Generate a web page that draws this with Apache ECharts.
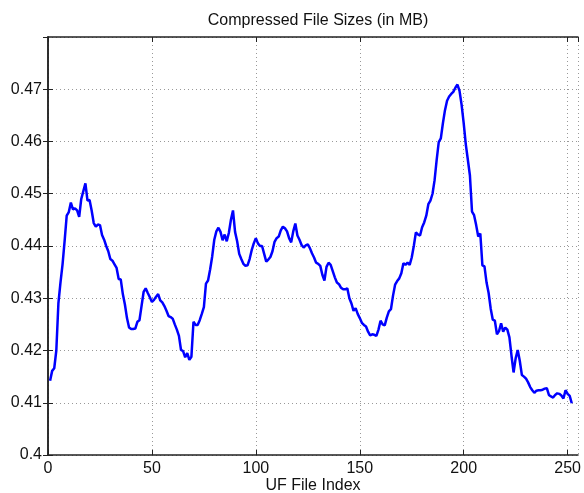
<!DOCTYPE html>
<html>
<head>
<meta charset="utf-8">
<script src="https://cdn.jsdelivr.net/npm/echarts@6/dist/echarts.min.js"></script>
<style>
  body { margin: 0; background: #fff; }
  #main { width: 584px; height: 493px; }
</style>
</head>
<body>
<div id="main"></div>
<script>
// compressed size of each UF file, index 1..252
var sizes = [
  0.4142, 0.4161, 0.4166, 0.4200, 0.4290, 0.4330, 0.4365, 0.4410, 0.4458, 0.4465,
  0.4483, 0.4470, 0.4472, 0.4468, 0.4456, 0.4490, 0.4505, 0.4520, 0.4487, 0.4488,
  0.4468, 0.4444, 0.4437, 0.4441, 0.4440, 0.4421, 0.4412, 0.4400, 0.4390, 0.4375,
  0.4372, 0.4365, 0.4358, 0.4337, 0.4336, 0.4308, 0.4288, 0.4262, 0.4244, 0.4241,
  0.4241, 0.4242, 0.4255, 0.4258, 0.4285, 0.4312, 0.4319, 0.4310, 0.4302, 0.4293,
  0.4297, 0.4303, 0.4308, 0.4296, 0.4292, 0.4285, 0.4276, 0.4266, 0.4264, 0.4261,
  0.4250, 0.4240, 0.4228, 0.4201, 0.4199, 0.4187, 0.4195, 0.4182, 0.4188, 0.4255,
  0.4249, 0.4249, 0.4258, 0.4270, 0.4283, 0.4328, 0.4334, 0.4355, 0.4380, 0.4412,
  0.4428, 0.4435, 0.4427, 0.4411, 0.4422, 0.4409, 0.4425, 0.4450, 0.4468, 0.4427,
  0.4409, 0.4385, 0.4375, 0.4366, 0.4362, 0.4363, 0.4375, 0.4392, 0.4405, 0.4415,
  0.4405, 0.4400, 0.4400, 0.4385, 0.4370, 0.4374, 0.4379, 0.4390, 0.4408, 0.4415,
  0.4418, 0.4430, 0.4437, 0.4434, 0.4428, 0.4415, 0.4407, 0.4428, 0.4443, 0.4420,
  0.4412, 0.4402, 0.4397, 0.4401, 0.4403, 0.4396, 0.4386, 0.4378, 0.4368, 0.4366,
  0.4362, 0.4345, 0.4334, 0.4360, 0.4368, 0.4364, 0.4352, 0.4340, 0.4330, 0.4327,
  0.4320, 0.4317, 0.4317, 0.4319, 0.4300, 0.4290, 0.4276, 0.4281, 0.4270, 0.4262,
  0.4253, 0.4249, 0.4246, 0.4236, 0.4229, 0.4231, 0.4230, 0.4228, 0.4240, 0.4257,
  0.4250, 0.4248, 0.4263, 0.4275, 0.4279, 0.4305, 0.4326, 0.4333, 0.4338, 0.4348,
  0.4367, 0.4364, 0.4368, 0.4364, 0.4378, 0.4400, 0.4426, 0.4422, 0.4420, 0.4436,
  0.4445, 0.4458, 0.4480, 0.4487, 0.4500, 0.4526, 0.4565, 0.4599, 0.4606, 0.4635,
  0.4660, 0.4678, 0.4686, 0.4691, 0.4695, 0.4703, 0.4709, 0.4697, 0.4670, 0.4635,
  0.4595, 0.4565, 0.4535, 0.4466, 0.4459, 0.4440, 0.4418, 0.4424, 0.4363, 0.4361,
  0.4330, 0.4310, 0.4280, 0.4259, 0.4257, 0.4231, 0.4237, 0.4252, 0.4236, 0.4244,
  0.4240, 0.4225, 0.4190, 0.4158, 0.4185, 0.4201, 0.4180, 0.4153, 0.4150, 0.4146,
  0.4139, 0.4130, 0.4124, 0.4119, 0.4123, 0.4124, 0.4124, 0.4125, 0.4127, 0.4128,
  0.4115, 0.4112, 0.4110, 0.4115, 0.4118, 0.4117, 0.4114, 0.4108, 0.4124, 0.4117,
  0.4113, 0.4099
]

var xMin = 0, xMax = 255, xStep = 50
var yMin = 0.4, yMax = 0.48, yStep = 0.01

var fontName = 'Liberation Sans, Arial, Helvetica, sans-serif'

function get_points (vals) {
  var pts = []
  for (var i = 0; i < vals.length; i++) {
    pts.push([i + 1, vals[i]])
  }
  return pts
}

var chart = echarts.init(document.getElementById('main'))

var boxLine = { show: true, lineStyle: { color: '#222', width: 1.5 } }
var innerTick = { show: true, inside: true, length: 5, lineStyle: { color: '#222', width: 1 } }
var dotted = { show: true, lineStyle: { color: '#999', type: [1, 3], width: 1 } }

var option = {
  animation: false,
  backgroundColor: '#fff',
  title: {
    text: 'Compressed File Sizes (in MB)',
    left: 313,
    textAlign: 'center',
    top: 8,
    textStyle: { fontFamily: fontName, fontSize: 16, fontWeight: 'normal', color: '#111' }
  },
  grid: { left: 48, right: 6, top: 37, bottom: 38, outerBoundsMode: 'none', containLabel: false },
  xAxis: [
    {
      type: 'value', min: xMin, max: xMax, interval: xStep,
      position: 'bottom',
      name: 'UF File Index', nameLocation: 'middle', nameGap: 23, nameMoveOverlap: false,
      nameTextStyle: { fontFamily: fontName, fontSize: 16, color: '#111' },
      axisLine: boxLine, axisTick: innerTick, splitLine: dotted,
      axisLabel: { showMaxLabel: false, margin: 6, fontFamily: fontName, fontSize: 16, color: '#111' }
    },
    {
      type: 'value', min: xMin, max: xMax, interval: xStep,
      position: 'top',
      axisLine: boxLine, axisTick: innerTick, splitLine: { show: false },
      axisLabel: { show: false }
    }
  ],
  yAxis: [
    {
      type: 'value', min: yMin, max: yMax, interval: yStep,
      position: 'left',
      axisLine: boxLine, axisTick: innerTick, splitLine: dotted,
      axisLabel: {
        showMaxLabel: false, margin: 6, fontFamily: fontName, fontSize: 16, color: '#111',
        formatter: function (v) { return String(+v.toFixed(2)) }
      }
    },
    {
      type: 'value', min: yMin, max: yMax, interval: yStep,
      position: 'right',
      axisLine: boxLine, axisTick: innerTick, splitLine: { show: false },
      axisLabel: { show: false }
    }
  ],
  series: [
    {
      type: 'line',
      data: get_points(sizes),
      showSymbol: false,
      lineStyle: { color: '#0000ff', width: 2.5 },
      itemStyle: { color: '#0000ff' }
    }
  ]
}

chart.setOption(option)
</script>
</body>
</html>
